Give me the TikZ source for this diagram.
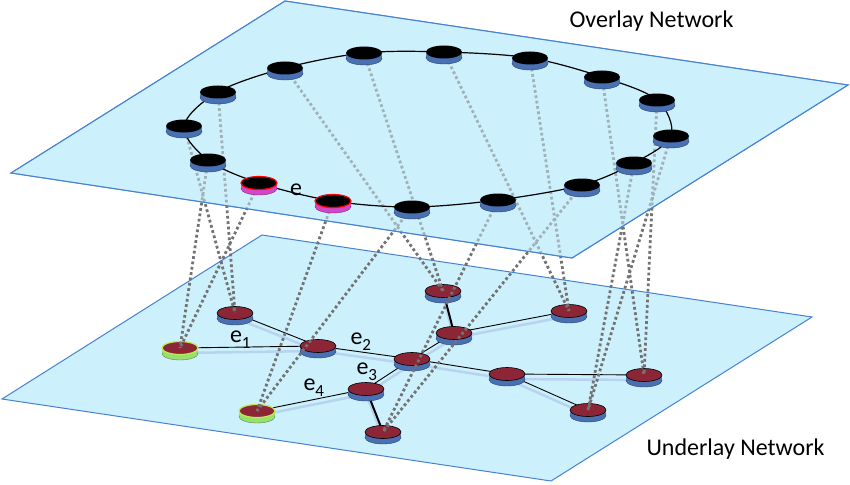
\documentclass[tikz,border=0pt]{standalone}
\usepackage{fontspec}
\setmainfont{Carlito}
\usepackage{tikz}
\usetikzlibrary{shapes.geometric}
\definecolor{planeFill}{RGB}{205,240,253}
\definecolor{planeEdge}{RGB}{70,130,210}
\definecolor{sideBlue}{RGB}{72,112,178}
\definecolor{sidePink}{RGB}{210,70,200}
\definecolor{sideGreen}{RGB}{150,225,110}
\definecolor{routerRed}{RGB}{140,38,55}
\definecolor{rimGreen}{RGB}{190,235,80}
\definecolor{mapGray}{RGB}{115,115,115}
\definecolor{edgeShadow}{RGB}{182,212,240}
\pgfdeclarelayer{back}
\pgfdeclarelayer{veil}
\pgfdeclarelayer{front}
\pgfsetlayers{back,main,veil,front}
\tikzset{
    disc/.style 2 args={
        ellipse,
        inner sep=0pt,
        minimum width=36pt,
        minimum height=13pt,
        preaction={fill=#2, draw=#2!60!black, line width=0.4pt, transform canvas={yshift=-5.5pt}},
        preaction={fill=#2, transform canvas={yshift=-3.7pt}},
        preaction={fill=#2, transform canvas={yshift=-1.8pt}},
        fill=#1
    },
    peer/.style={disc={black}{sideBlue}},
    endpeer/.style={disc={black}{sidePink}, draw=red, line width=1.2pt},
    router/.style={disc={routerRed}{sideBlue}, draw=black, line width=0.6pt},
    endrouter/.style={disc={routerRed}{sideGreen}, draw=rimGreen, line width=1.2pt},
    plane/.style={fill=planeFill, draw=planeEdge, line width=1pt},
    maplink/.style={mapGray, line width=2.8pt, dash pattern=on 2.8pt off 2.6pt},
    link/.style={black, line width=0.9pt},
    shadowlink/.style={edgeShadow, line width=2.5pt, transform canvas={yshift=-5pt}},
    ring/.style={black, line width=1.2pt}
}
\newcommand{\esub}[1]{e\raisebox{-6pt}{\fontsize{17}{17}\selectfont #1}}

\begin{document}
\begin{tikzpicture}[x=1pt, y=-1pt, font=\fontsize{24}{28}\selectfont]
    \useasboundingbox (0,0) rectangle (850,484);

    % 1. Overlay peers on the upper plane
    \begin{pgfonlayer}{front}
    \foreach \n/\x/\y/\kind in {1/184/126/peer, 2/218/92/peer, 3/285/68/peer, 4/364/53/peer,
            5/444/52/peer, 6/530/58/peer, 7/602/77/peer, 8/657/100/peer, 9/671/136/peer,
            10/634/163/peer, 11/582/185/peer, 12/498/200/peer, 13/412/207/peer,
            14/333/201/endpeer, 15/259/183/endpeer, 16/208/160/peer}
        \node[\kind] (o\n) at (\x,\y) {};
    \node[anchor=base] (le) at (296,195) {e};
    \end{pgfonlayer}

    % 2. Underlay routers on the lower plane
    \foreach \n/\x/\y/\kind in {1/235/313/router, 2/180/348/endrouter, 3/318/346/router,
            4/412/359/router, 5/443/291/router, 6/569/311/router, 7/454/333/router,
            8/366/389/router, 9/257/411/endrouter, 10/383/432/router, 11/507/374/router,
            12/644/375/router, 13/588/410/router}
        \node[\kind] (u\n) at (\x,\y) {};

    % 3. Planes and physical links
    \begin{pgfonlayer}{back}
    \path[plane] (285,1) -- (848,85) -- (572,258) -- (11,173) -- cycle;
    \path[plane] (262,235) -- (812,317) -- (551,481) -- (2,399) -- cycle;
    \foreach \a/\b in {2/3, 1/3, 3/4, 4/7, 5/7, 7/6, 4/8, 8/9, 8/10, 4/11, 11/12, 11/13}
        \draw[shadowlink] (u\a.center) -- (u\b.center);
    \foreach \a/\b in {2/3, 1/3, 3/4, 4/7, 7/6, 4/8, 8/9, 4/11, 11/12, 11/13}
        \draw[link] (u\a.center) -- (u\b.center);
    \draw[link, line width=2pt] (u5.center) -- (u7.center);
    \draw[link, line width=2pt] (u8.center) -- (u10.center);
    \end{pgfonlayer}

    % 4. Mapping of peers to routers
    \foreach \a/\b in {1/1, 2/1, 3/5, 4/5, 5/6, 6/6, 7/12, 8/12, 9/13, 10/13,
            11/10, 12/10, 13/9, 14/9, 15/2, 16/2}
        \draw[maplink] (o\a.center) -- (u\b.center);

    % 5. Upper plane seen over the mapping, and the ring
    \begin{pgfonlayer}{veil}
    \path[plane, fill opacity=0.5] (285,1) -- (848,85) -- (572,258) -- (11,173) -- cycle;
    \draw[ring] plot[smooth cycle, tension=0.55] coordinates {(o1.center) (o2.center) (o3.center)
        (o4.center) (o5.center) (o6.center) (o7.center) (o8.center) (o9.center) (o10.center)
        (o11.center) (o12.center) (o13.center) (o14.center) (o15.center) (o16.center)};
    \end{pgfonlayer}

    % 6. Texts
    \node[anchor=base west] (le1) at (226.5,342) {\esub{1}};
    \node[anchor=base west] (le2) at (347,344) {\esub{2}};
    \node[anchor=base west] (le3) at (353,374) {\esub{3}};
    \node[anchor=base west] (le4) at (300,390) {\esub{4}};
    \node[anchor=base] (over) at (651.5,28) {Overlay Network};
    \node[anchor=base] (under) at (735.5,455) {Underlay Network};
\end{tikzpicture}
\end{document}
